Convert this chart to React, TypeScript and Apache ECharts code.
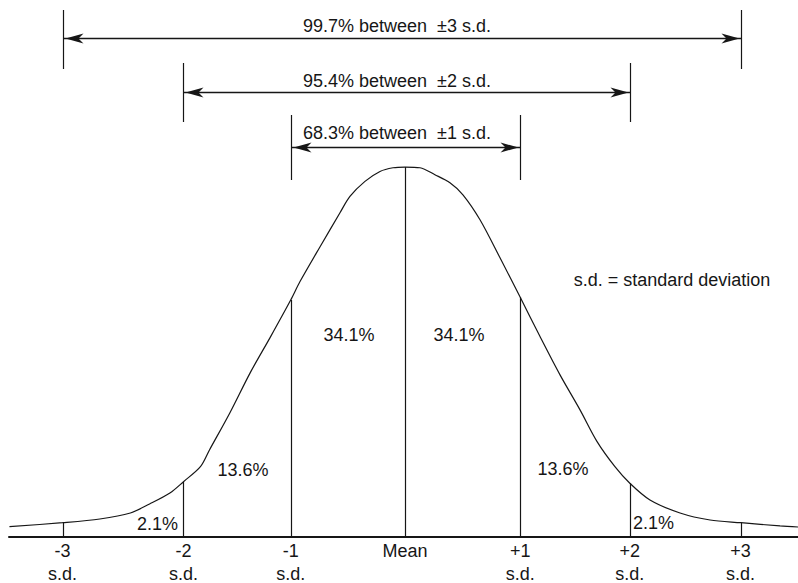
import React, { useEffect, useRef } from "react";
import * as echarts from "echarts";

// Curve: x in s.d. from the mean, y in density units
const curveX = [-3.5, -3.03, -2.7, -2.43, -2.26, -2.08, -1.96, -1.81, -1.73, -1.55, -1.37, -1.19, -1.01, -0.93, -0.75, -0.575, -0.487, -0.354, -0.221, -0.106, 0, 0.133, 0.265, 0.398, 0.513, 0.664, 0.841, 1.02, 1.195, 1.372, 1.549, 1.7, 1.858, 1.99, 2.168, 2.434, 2.7, 2.973, 3.319, 3.478];
const curveY = [0.0111, 0.0154, 0.0194, 0.0259, 0.0356, 0.0474, 0.0596, 0.0758, 0.0938, 0.1337, 0.1769, 0.2157, 0.2556, 0.275, 0.3131, 0.3494, 0.367, 0.3832, 0.3939, 0.3979, 0.3987, 0.3979, 0.3904, 0.3818, 0.3688, 0.3419, 0.3009, 0.2583, 0.216, 0.1747, 0.137, 0.1028, 0.0758, 0.0579, 0.0399, 0.0259, 0.0183, 0.0154, 0.0119, 0.0108];

// Markers at -3 .. +3 s.d. (as drawn) and the curve height there
const markerPos = [-3.03, -1.96, -1.01, 0, 1.02, 1.99, 2.97];
const markerHeight = [0.0154, 0.0596, 0.2556, 0.3987, 0.2583, 0.0579, 0.0154];
const tickTop = ["-3", "-2", "-1", "Mean", "+1", "+2", "+3"];
const tickBottom = ["s.d.", "s.d.", "s.d.", "", "s.d.", "s.d.", "s.d."];

// Band percentages between markers
const bandPct = ["2.1%", "13.6%", "34.1%", "34.1%", "13.6%", "2.1%"];

// Ranges annotated above the curve
const rangeSd = [3, 2, 1];
const rangeLabels = ["99.7% between  \u00b13 s.d.", "95.4% between  \u00b12 s.d.", "68.3% between  \u00b11 s.d."];

const noteText = "s.d. = standard deviation";

// ---- layout (not data) ----
const FONT = '"Liberation Sans", Arial, Helvetica, sans-serif';
const INK = "#161616";
const ROWS = [
  { arrowY: 38.5, tickTop: 10, tickBottom: 69, textY: 25.5 },
  { arrowY: 92.5, tickTop: 63, tickBottom: 122, textY: 81 },
  { arrowY: 147.5, tickTop: 115, tickBottom: 180, textY: 132.5 },
];
const BAND_LABEL_AT = [
  [-2.19, 0.0135],
  [-1.434, 0.0722],
  [-0.496, 0.2177],
  [0.478, 0.2177],
  [1.398, 0.0733],
  [2.199, 0.0151],
];

const textStyle = (text: string, align = "center") => ({
  text,
  fill: INK,
  fontSize: 18,
  fontFamily: FONT,
  align,
  verticalAlign: "middle",
});

export default function App() {
  const ref = useRef<HTMLDivElement>(null);

  useEffect(() => {
    if (!ref.current) return;
    const chart = echarts.init(ref.current, undefined, { renderer: "svg" });
    const crisp = (v: number) => Math.round(v) + 0.5;

    chart.setOption({
      animation: false,
      backgroundColor: "#ffffff",
      grid: { left: 9, right: 0, top: 0, bottom: 46 },
      xAxis: {
        type: "value",
        min: -3.504,
        max: 3.478,
        axisLine: { show: true, onZero: false, lineStyle: { color: INK, width: 2 } },
        axisTick: { show: false },
        axisLabel: { show: false },
        splitLine: { show: false },
      },
      yAxis: {
        type: "value",
        min: 0,
        max: 0.5787,
        show: false,
        splitLine: { show: false },
      },
      graphic: [
        {
          type: "text",
          x: 672,
          y: 279.5,
          style: textStyle(noteText),
        },
      ],
      series: [
        {
          type: "line",
          data: curveX.map((x, i) => [x, curveY[i]]),
          smooth: 0.3,
          showSymbol: false,
          symbol: "none",
          lineStyle: { color: INK, width: 1.2 },
          silent: true,
        },
        {
          type: "custom",
          data: markerPos.map((x, i) => [x, markerHeight[i], i]),
          encode: { x: 0, y: 1 },
          renderItem: (_p: any, api: any) => {
            const x = api.value(0);
            const h = api.value(1);
            const i = api.value(2);
            const top = api.coord([x, h]);
            const base = api.coord([x, 0]);
            const px = crisp(base[0]);
            const children: any[] = [
              {
                type: "line",
                shape: { x1: px, y1: top[1], x2: px, y2: base[1] },
                style: { stroke: INK, lineWidth: 1.2 },
              },
              { type: "text", x: base[0], y: base[1] + 13.5, style: textStyle(tickTop[i]) },
            ];
            if (tickBottom[i]) {
              children.push({ type: "text", x: base[0], y: base[1] + 37, style: textStyle(tickBottom[i]) });
            }
            return { type: "group", children };
          },
        },
        {
          type: "custom",
          data: BAND_LABEL_AT.map((p, i) => [p[0], p[1], i]),
          encode: { x: 0, y: 1 },
          renderItem: (_p: any, api: any) => {
            const pt = api.coord([api.value(0), api.value(1)]);
            return { type: "text", x: pt[0], y: pt[1], style: textStyle(bandPct[api.value(2)]) };
          },
        },
        {
          type: "custom",
          data: rangeSd.map((k, r) => [markerPos[3 - k], markerPos[3 + k], 0, r]),
          encode: { x: [0, 1], y: 2 },
          renderItem: (_p: any, api: any) => {
            const L = crisp(api.coord([api.value(0), 0])[0]);
            const R = crisp(api.coord([api.value(1), 0])[0]);
            const r = api.value(3);
            const row = ROWS[r];
            const y = row.arrowY;
            const mid = api.coord([0, 0])[0] - 8;
            const lineStyle = { stroke: INK, lineWidth: 1.2 };
            return {
              type: "group",
              children: [
                { type: "line", shape: { x1: L, y1: row.tickTop, x2: L, y2: row.tickBottom }, style: lineStyle },
                { type: "line", shape: { x1: R, y1: row.tickTop, x2: R, y2: row.tickBottom }, style: lineStyle },
                { type: "line", shape: { x1: L, y1: y, x2: R, y2: y }, style: { stroke: INK, lineWidth: 1.5 } },
                {
                  type: "polygon",
                  shape: { points: [[L + 2, y], [L + 20, y - 5], [L + 15, y], [L + 20, y + 5]] },
                  style: { fill: INK },
                },
                {
                  type: "polygon",
                  shape: { points: [[R - 2, y], [R - 20, y - 5], [R - 15, y], [R - 20, y + 5]] },
                  style: { fill: INK },
                },
                { type: "text", x: mid, y: row.textY, style: textStyle(rangeLabels[r]) },
              ],
            };
          },
        },
      ],
    });

    return () => chart.dispose();
  }, []);

  return (
    <div
      ref={ref}
      style={{ position: "absolute", left: 0, top: 0, width: 798, height: 583, background: "#fff" }}
    />
  );
}
